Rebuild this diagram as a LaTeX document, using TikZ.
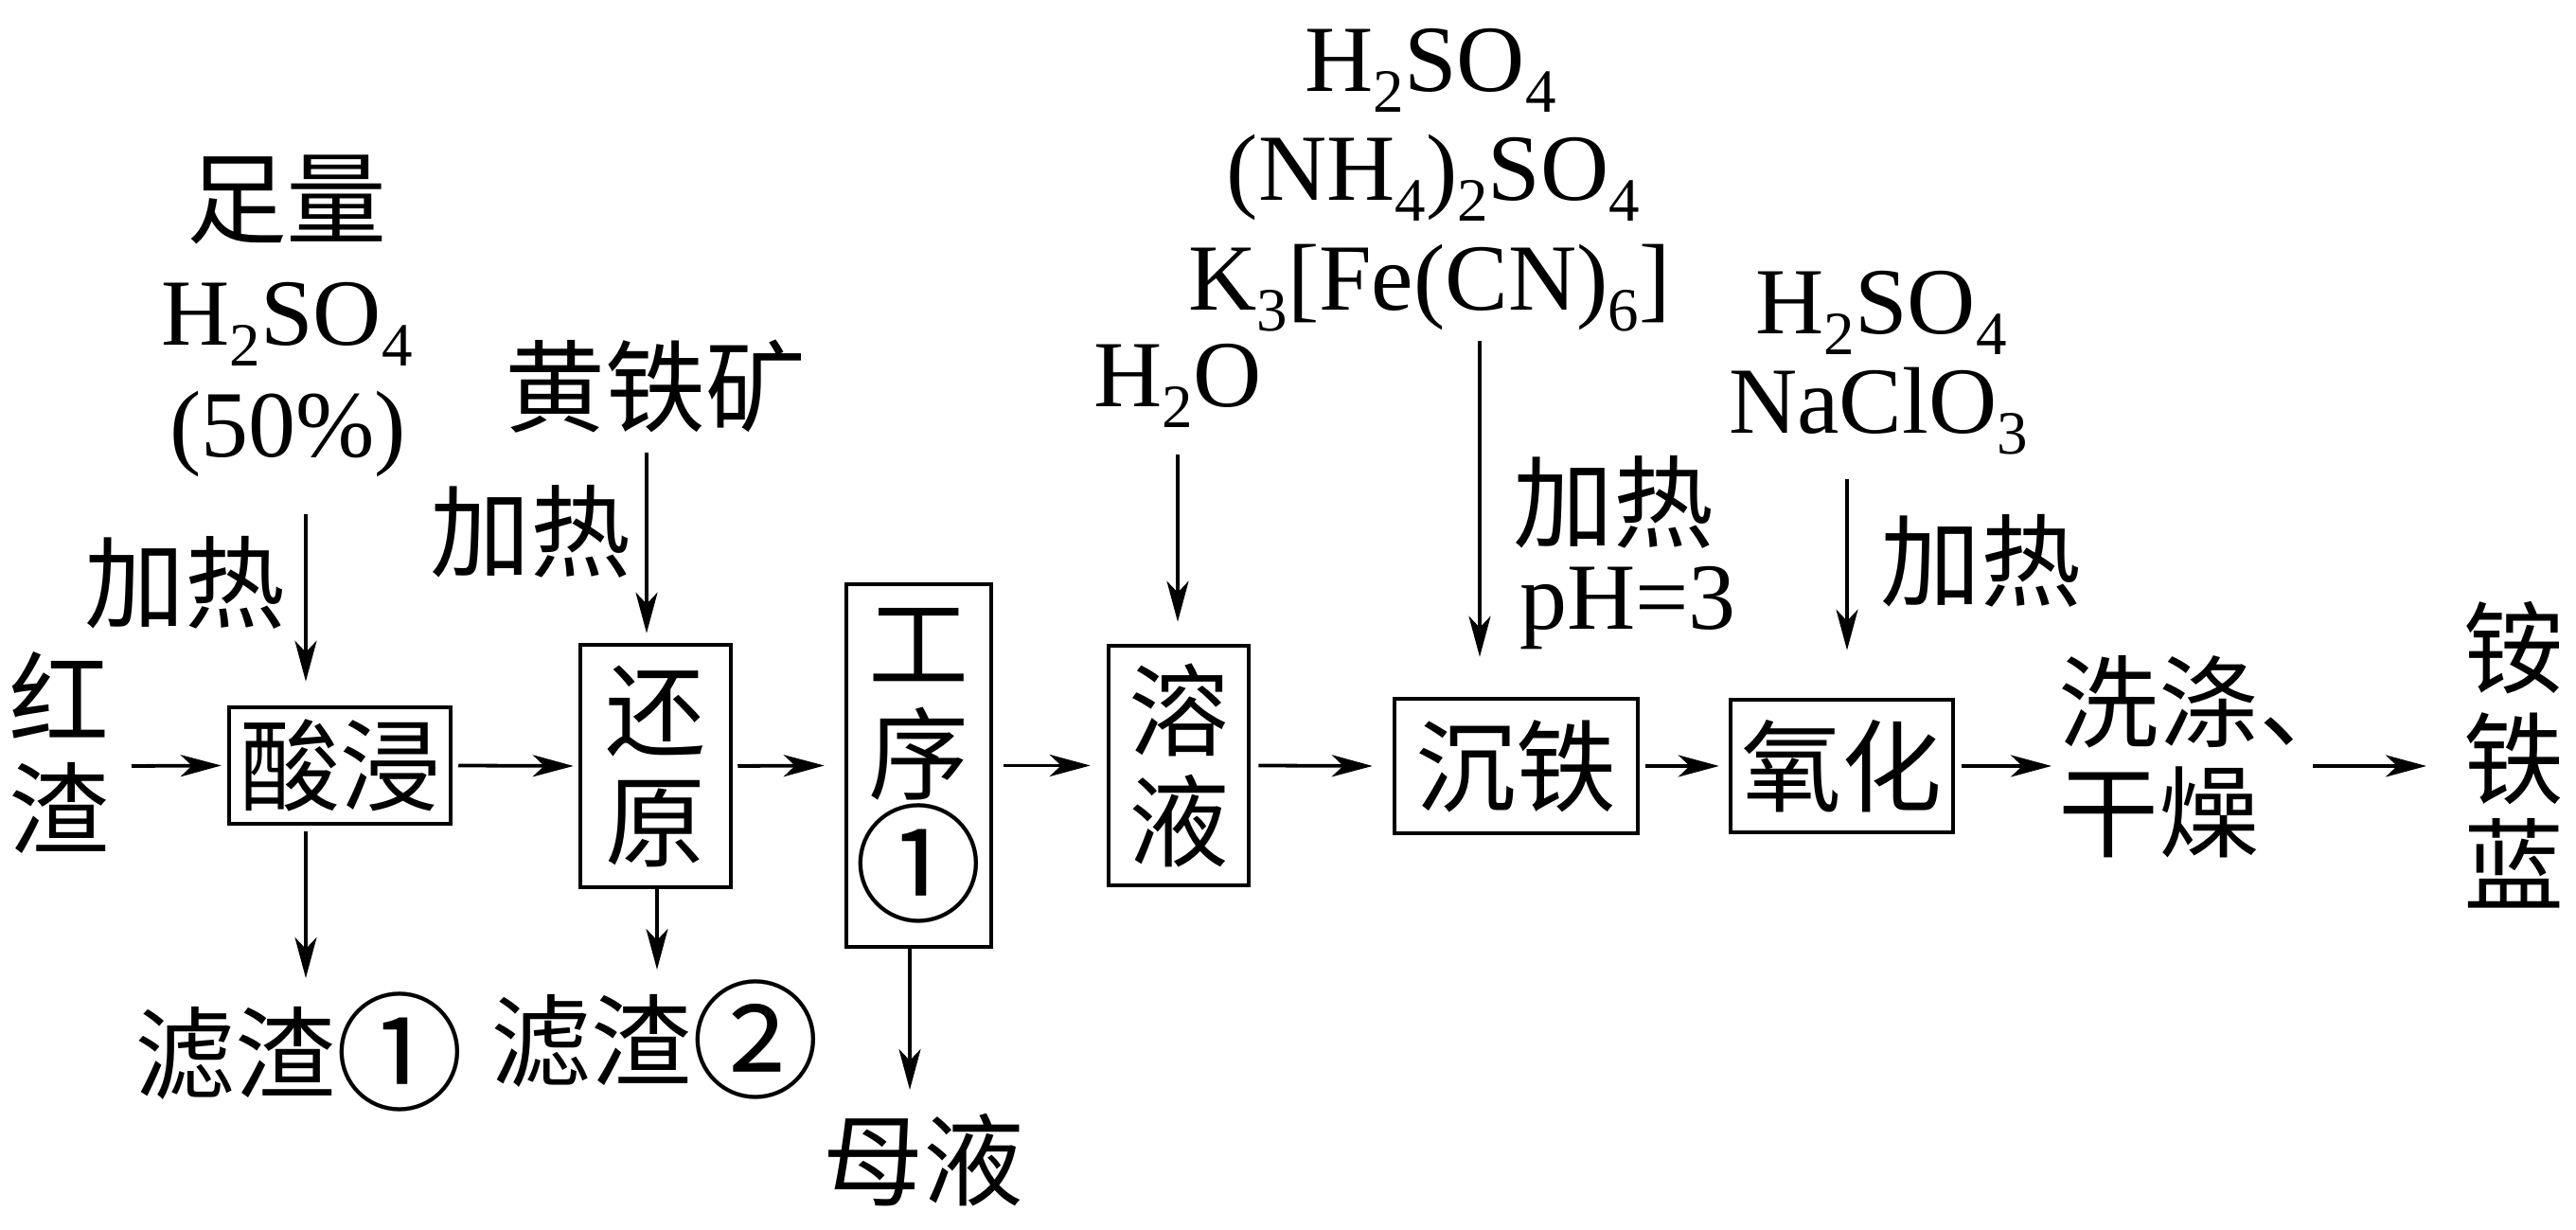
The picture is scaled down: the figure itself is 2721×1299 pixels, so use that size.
\documentclass[tikz,border=0pt]{standalone}
\usepackage{fontspec}
\usepackage{graphicx}
\setmainfont{Liberation Serif}
\newfontfamily\cjk{Noto Sans CJK SC}
\usetikzlibrary{arrows.meta}
\newcommand\chsub[1]{\raisebox{-2.2pt}{\fontsize{6.5}{6.5}\selectfont #1}}
\newcommand\cnum[1]{\raisebox{-1.0pt}{\scalebox{1.28}{#1}}}
\begin{document}
\begin{tikzpicture}[x=0.1pt,y=-0.1pt,
  lat/.style={font=\fontsize{10}{11.6}\selectfont, inner sep=0pt, anchor=base},
  zh/.style={font=\cjk\fontsize{10.6}{11.7}\selectfont, inner sep=0pt, anchor=base},
  box/.style={draw, line width=0.45pt, inner sep=0pt, align=center,
    font=\cjk\fontsize{10.6}{11.7}\selectfont},
  arr/.style={line width=0.38pt, -{Stealth[length=4.3pt,width=2.3pt,inset=1.2pt]}}]
\useasboundingbox (0,0) rectangle (2721,1299);

% process boxes
\node[box, minimum width=23.4pt, minimum height=12.3pt] (sj) at (359,808.5) {酸浸};
\node[box, minimum width=15.9pt, minimum height=25.6pt] (hy) at (692.5,809) {还\\原};
\node[box, minimum width=15.3pt, minimum height=38.3pt] (gx) at (970.5,808.5) {工\\序\\\cnum{①}};
\node[box, minimum width=14.8pt, minimum height=25.3pt] (ry) at (1245,808.5) {溶\\液};
\node[box, minimum width=25.7pt, minimum height=14.2pt] (ct) at (1601.5,809) {沉铁};
\node[box, minimum width=23.5pt, minimum height=14pt] (yh) at (1945.5,809) {氧化};

% labels
\node[zh] (hong) at (62,778) {红};
\node[zh] (zha) at (62,895) {渣};
\node[zh] (zl) at (303,250) {足量};
\node[lat] (hsa) at (303,365) {H\chsub{2}SO\chsub{4}};
\node[lat] (pct) at (304,483) {(50\%)};
\node[zh] (jra) at (195,656) {加热};
\node[zh] (lza) at (316,1153) {滤渣\cnum{①}};
\node[zh] (htk) at (692,449) {黄铁矿};
\node[zh] (jrb) at (560,602) {加热};
\node[zh] (lzb) at (692,1140) {滤渣\cnum{②}};
\node[zh] (my) at (975,1266) {母液};
\node[lat] (hto) at (1244,430) {H\chsub{2}O};
\node[lat] (hsb) at (1511,97) {H\chsub{2}SO\chsub{4}};
\node[lat] (nhs) at (1514,212) {(NH\chsub{4})\chsub{2}SO\chsub{4}};
\node[lat] (kfe) at (1510,328) {K\chsub{3}[Fe(CN)\chsub{6}]};
\node[zh, anchor=base west] (jrc) at (1596,571) {加热};
\node[lat, anchor=base west] (ph) at (1603,665) {pH=3};
\node[lat] (hsc) at (1987,353) {H\chsub{2}SO\chsub{4}};
\node[lat] (ncl) at (1984,458) {NaClO\chsub{3}};
\node[zh, anchor=base west] (jrd) at (1984,633) {加热};
\node[zh, anchor=base west] (xd) at (2172,782) {洗涤、};
\node[zh, anchor=base west] (gz) at (2172,898) {干燥};
\node[zh] (ana) at (2655,725) {铵};
\node[zh] (anb) at (2655,842) {铁};
\node[zh] (anc) at (2655,954) {蓝};

% free ends
\coordinate (c0) at (139,809);
\coordinate (ca1) at (323,543);
\coordinate (ca2) at (323,1033);
\coordinate (cb1) at (683,478);
\coordinate (cb2) at (694,1024);
\coordinate (cc1) at (961,1151);
\coordinate (cd1) at (1244,480);
\coordinate (ce1) at (1563,360);
\coordinate (cf1) at (1951,506);
\coordinate (cg1) at (2167,809);
\coordinate (ch0) at (2443,809);
\coordinate (ch1) at (2563,809);

% main line
\draw[arr] (c0) -- ([xshift=-0.6pt]sj.west);
\draw[arr] ([xshift=0.6pt]sj.east) -- ([xshift=-0.5pt]hy.west);
\draw[arr] ([xshift=0.5pt]hy.east) -- ([xshift=-2.1pt]gx.west);
\draw[arr] ([xshift=1.1pt]gx.east) -- ([xshift=-1.7pt]ry.west);
\draw[arr] ([xshift=0.8pt]ry.east) -- ([xshift=-2.1pt]ct.west);
\draw[arr] ([xshift=0.6pt]ct.east) -- ([xshift=-1.0pt]yh.west);
\draw[arr] ([xshift=0.7pt]yh.east) -- (cg1);
\draw[arr] (ch0) -- (ch1);

% vertical inputs / outputs
\draw[arr] (ca1) -- ([yshift=2.5pt]ca1 |- sj.north);
\draw[arr] ([yshift=-0.6pt]ca1 |- sj.south) -- (ca2);
\draw[arr] (cb1) -- ([yshift=1.0pt]cb1 |- hy.north);
\draw[arr] (cb2 |- hy.south) -- (cb2);
\draw[arr] (cc1 |- gx.south) -- (cc1);
\draw[arr] (cd1) -- ([yshift=2.3pt]cd1 |- ry.north);
\draw[arr] (ce1) -- ([yshift=4.2pt]ce1 |- ct.north);
\draw[arr] (cf1) -- ([yshift=5.0pt]cf1 |- yh.north);
\end{tikzpicture}
\end{document}
